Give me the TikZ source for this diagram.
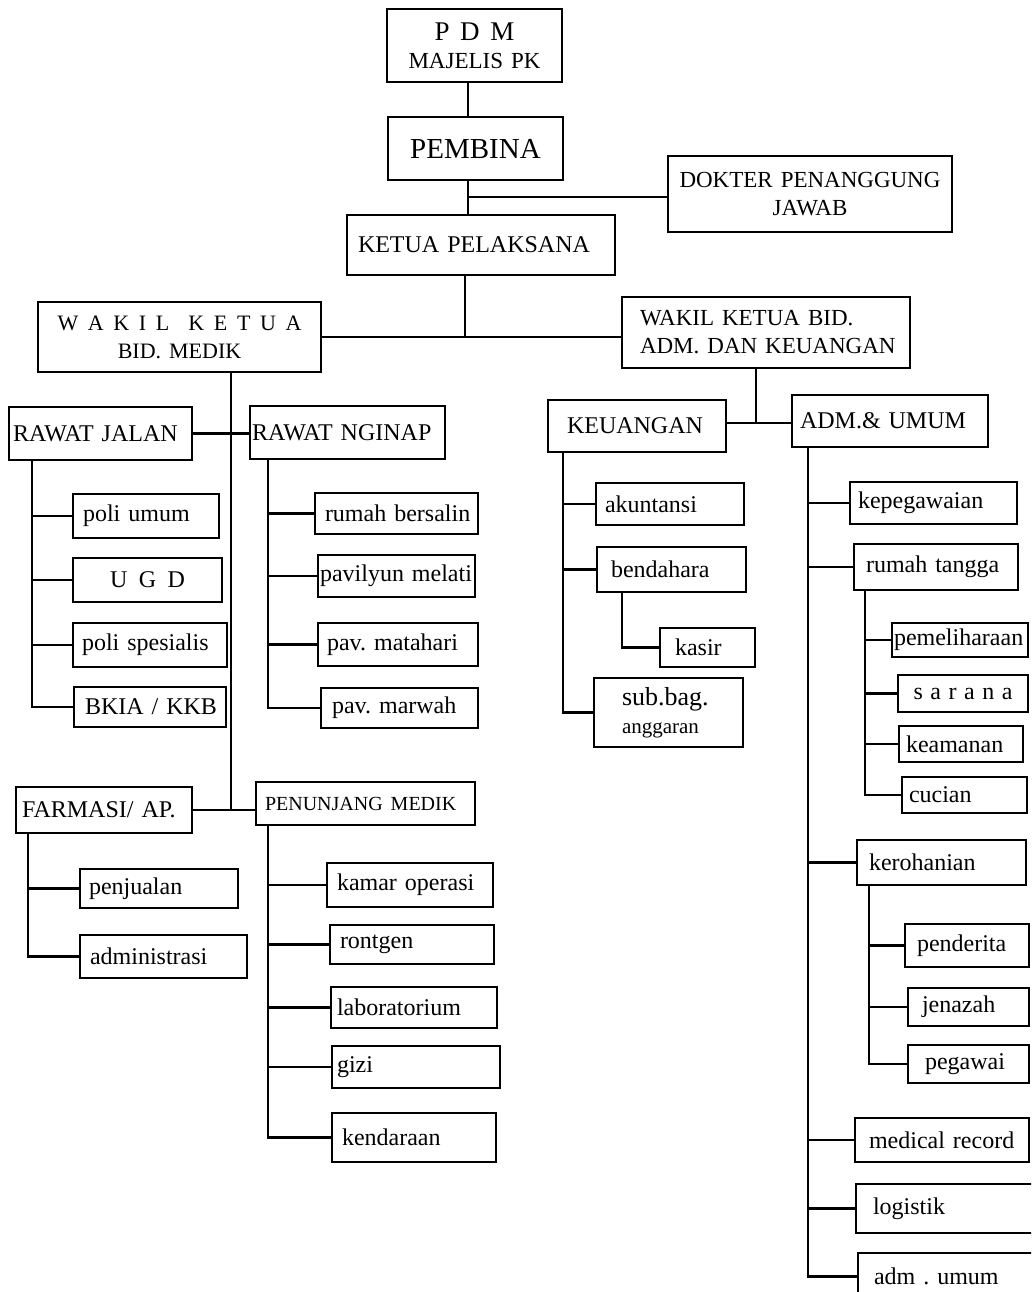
\documentclass[tikz,border=0pt]{standalone}
\usepackage{fontspec}
\setmainfont{Liberation Serif}
\frenchspacing
\newcommand\bx[8]{\pgfmathsetmacro\bxtw{#4-#2-2*#6}\pgfmathsetmacro\bxmh{#5-#3}%
\node[box, inner xsep=#6pt, text width=\bxtw pt, minimum height=\bxmh pt, align=#7] (#1) at ({(#2+#4)/2},{(#3+#5)/2}) {#8};}
\begin{document}
\begin{tikzpicture}[x=1pt,y=-1pt,
 box/.style={draw, line width=2.2pt, inner ysep=0pt, outer sep=0pt, font=\fontsize{24}{28}\selectfont},
 conn/.style={line width=2.2pt}]
\clip (0,0) rectangle (1031,1292);
\fill[white] (0,0) rectangle (1031,1292);
% top
\bx{pdm}{387}{9}{562}{82}{4}{center}{\fontsize{27}{30}\selectfont\makebox[80pt][s]{P\hfil D\hfil M}\\\fontsize{23}{26}\selectfont\mbox{MAJELIS PK}}
\bx{pemb}{388}{117}{563}{180}{4}{center}{\fontsize{29}{32}\selectfont\mbox{PEMBINA}}
\bx{dok}{668}{156}{952}{232}{2}{center}{\fontsize{23}{30}\selectfont\mbox{DOKTER PENANGGUNG}\\\mbox{JAWAB}}
\bx{ketua}{347}{215}{615}{275}{11}{left}{\mbox{KETUA PELAKSANA}}
\bx{wm}{38}{302}{321}{372}{6}{center}{\fontsize{22}{28}\selectfont\makebox[244pt][s]{W\hfil A\hfil K\hfil I\hfil L\hfil\hfil K\hfil E\hfil T\hfil U\hfil A}\\\mbox{BID. MEDIK}}
\bx{wa}{622}{297}{910}{368}{18}{left}{\fontsize{23}{30}\selectfont\mbox{WAKIL KETUA BID.}\\\mbox{ADM. DAN KEUANGAN}}
% medik
\bx{rj}{9}{407}{192}{460}{4}{left}{\mbox{RAWAT JALAN}}
\bx{rn}{250}{406}{445}{459}{2}{left}{\mbox{RAWAT NGINAP}}
\bx{pu}{73}{494}{219}{538}{10}{left}{\mbox{poli umum}}
\bx{ugd}{73}{558}{222}{602}{4}{center}{\makebox[75pt][s]{U\hfil G\hfil D}}
\bx{ps}{73}{623}{227}{667}{9}{left}{\mbox{poli spesialis}}
\bx{bk}{74}{687}{226}{727}{11}{left}{\mbox{BKIA / KKB}}
\bx{rb}{315}{493}{478}{534}{10}{left}{\mbox{rumah bersalin}}
\bx{pme}{318}{555}{475}{597}{2}{left}{\mbox{pavilyun melati}}
\bx{pmt}{318}{623}{478}{666}{9}{left}{\mbox{pav. matahari}}
\bx{pmw}{321}{688}{478}{728}{11}{left}{\mbox{pav. marwah}}
\bx{fa}{16}{787}{192}{833}{6}{left}{\mbox{FARMASI/ AP.}}
\bx{pm}{256}{782}{475}{825}{9}{left}{\fontsize{20}{24}\selectfont\mbox{PENUNJANG MEDIK}}
\bx{pj}{80}{869}{238}{908}{9}{left}{\mbox{penjualan}}
\bx{ad}{80}{935}{247}{978}{10}{left}{\mbox{administrasi}}
\bx{ko}{327}{863}{493}{907}{10}{left}{\mbox{kamar operasi}}
\bx{ro}{330}{925}{494}{964}{10}{left}{\mbox{rontgen}}
\bx{lb}{331}{987}{497}{1028}{6}{left}{\mbox{laboratorium}}
\bx{gz}{332}{1046}{500}{1088}{5}{left}{\mbox{gizi}}
\bx{kd}{332}{1113}{496}{1162}{10}{left}{\mbox{kendaraan}}
% adm
\bx{keu}{548}{400}{726}{452}{19}{left}{\mbox{KEUANGAN}}
\bx{adm}{792}{395}{988}{447}{8}{left}{\mbox{ADM.\& UMUM}}
\bx{ak}{596}{483}{744}{525}{9}{left}{\mbox{akuntansi}}
\bx{bd}{597}{547}{746}{592}{14}{left}{\mbox{bendahara}}
\bx{ks}{660}{628}{755}{667}{15}{left}{\mbox{kasir}}
\bx{sb}{594}{678}{743}{747}{28}{left}{\fontsize{26}{26}\selectfont\mbox{sub.bag.}\\\fontsize{21}{24}\selectfont\mbox{anggaran}}
\bx{kp}{850}{482}{1017}{524}{8}{left}{\mbox{kepegawaian}}
\bx{rt}{854}{544}{1018}{590}{12}{left}{\mbox{rumah tangga}}
\bx{pml}{892}{623}{1028}{657}{2}{left}{\mbox{pemeliharaan}}
\bx{sr}{898}{675}{1028}{712}{4}{center}{\makebox[99pt][s]{s\hfil a\hfil r\hfil a\hfil n\hfil a}}
\bx{ka}{899}{726}{1023}{762}{7}{left}{\mbox{keamanan}}
\bx{cu}{902}{777}{1027}{813}{7}{left}{\mbox{cucian}}
\bx{kr}{857}{840}{1026}{885}{12}{left}{\mbox{kerohanian}}
\bx{pd}{905}{924}{1029}{967}{12}{left}{\mbox{penderita}}
\bx{jz}{908}{988}{1029}{1026}{14}{left}{\mbox{jenazah}}
\bx{pg}{908}{1045}{1029}{1083}{17}{left}{\mbox{pegawai}}
\bx{mr}{855}{1118}{1029}{1162}{14}{left}{\mbox{medical record}}
\bx{lg}{856}{1184}{1036}{1233}{17}{left}{\mbox{logistik}}
\bx{au}{858}{1253}{1036}{1300}{16}{left}{\mbox{adm . umum}}
% junctions
\coordinate (ax) at (468,197);
\coordinate (kx) at (465,337);
\coordinate (mx) at (231,810);
\coordinate (ajx) at (756,423);
% connectors
\draw[conn] (pdm.south -| ax) -- (pemb.north -| ax);
\draw[conn] (pemb.south -| ax) -- (ketua.north -| ax);
\draw[conn] (ax) -- (ax -| dok.west);
\draw[conn] (ketua.south -| kx) -- (kx);
\draw[conn] (wm.east |- kx) -- (wa.west |- kx);
\draw[conn] (wm.south -| mx) -- (mx);
\draw[conn] (rj.east) -- (rn.west |- rj.east);
\draw[conn] (fa.east) -- (pm.west |- fa.east);
\draw[conn] (wa.south -| ajx) -- (ajx);
\draw[conn] (keu.east |- ajx) -- (adm.west |- ajx);
\foreach \c in {pu,ugd,ps,bk} \draw[conn] (rj.south west) ++(23,0) |- (\c.west);
\foreach \c in {rb,pme,pmt,pmw} \draw[conn] (rn.south west) ++(18,0) |- (\c.west);
\foreach \c in {pj,ad} \draw[conn] (fa.south west) ++(12,0) |- (\c.west);
\foreach \c in {ko,ro,lb,gz,kd} \draw[conn] (pm.south west) ++(12,0) |- (\c.west);
\foreach \c in {ak,bd,sb} \draw[conn] (keu.south west) ++(15,0) |- (\c.west);
\draw[conn] (bd.south west) ++(25,0) |- (ks.west);
\foreach \c in {kp,rt,kr,mr,lg,au} \draw[conn] (adm.south west) ++(16,0) |- (\c.west);
\foreach \c in {pml,sr,ka,cu} \draw[conn] (rt.south west) ++(11,0) |- (\c.west);
\foreach \c in {pd,jz,pg} \draw[conn] (kr.south west) ++(12,0) |- (\c.west);
\end{tikzpicture}
\end{document}
